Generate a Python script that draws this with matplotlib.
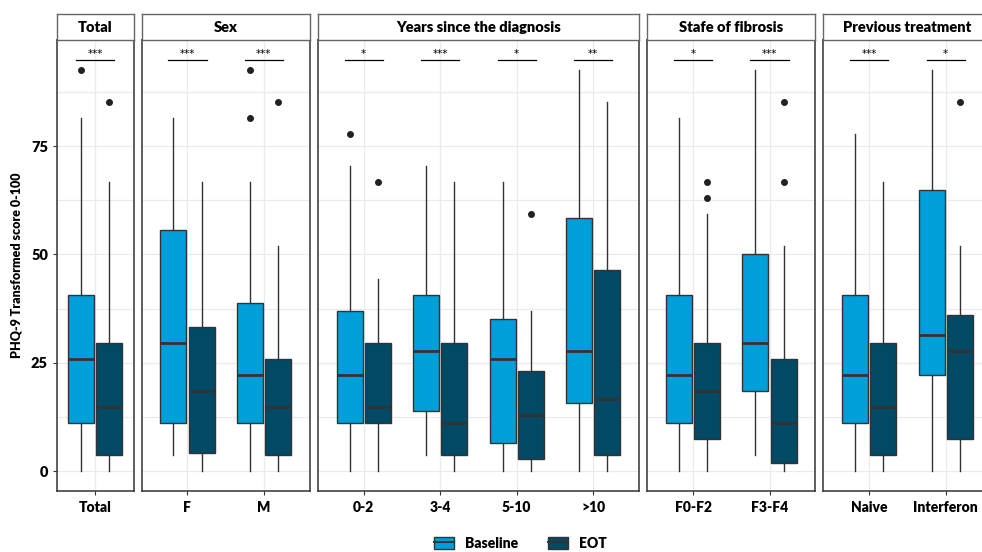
import numpy as np
import matplotlib
matplotlib.use("Agg")
import matplotlib.pyplot as plt
from matplotlib.patches import Patch
from matplotlib.lines import Line2D
from matplotlib.legend_handler import HandlerTuple

plt.rcParams['font.family'] = ['Lato', 'DejaVu Sans']
plt.rcParams['font.weight'] = 'bold'

# facets and categories
panels = ["Total", "Sex", "Years since the diagnosis", "Stafe of fibrosis", "Previous treatment"]
panel_sizes = [1, 2, 4, 2, 2]
categories = ["Total", "F", "M", "0-2", "3-4", "5-10", ">10", "F0-F2", "F3-F4", "Naive", "Interferon"]
stars = ["***", "***", "***", "*", "***", "*", "**", "*", "***", "***", "*"]

# Baseline box stats
base_low = [0, 3.7, 0, 0, 3.7, 0, 0, 0, 3.7, 0, 0]
base_q1 = [11.1, 11.1, 11.1, 11.1, 13.9, 6.5, 15.7, 11.1, 18.5, 11.1, 22.2]
base_med = [25.9, 29.6, 22.2, 22.2, 27.8, 25.9, 27.8, 22.2, 29.6, 22.2, 31.5]
base_q3 = [40.7, 55.6, 38.9, 37.0, 40.7, 35.2, 58.3, 40.7, 50.0, 40.7, 64.8]
base_high = [81.5, 81.5, 66.7, 70.4, 70.4, 66.7, 92.6, 81.5, 92.6, 77.8, 92.6]
base_out = [[92.6], [], [92.6, 81.5], [77.8], [], [], [], [], [], [], []]

# EOT box stats
eot_low = [0, 0, 0, 0, 0, 0, 0, 0, 0, 0, 0]
eot_q1 = [3.7, 4.2, 3.7, 11.1, 3.7, 2.8, 3.7, 7.4, 1.9, 3.7, 7.4]
eot_med = [14.8, 18.5, 14.8, 14.8, 11.1, 13.0, 16.7, 18.5, 11.1, 14.8, 27.8]
eot_q3 = [29.6, 33.3, 25.9, 29.6, 29.6, 23.1, 46.3, 29.6, 25.9, 29.6, 36.1]
eot_high = [66.7, 66.7, 51.9, 44.4, 66.7, 37.0, 85.2, 59.3, 51.9, 66.7, 51.9]
eot_out = [[85.2], [], [85.2], [66.7], [], [59.3], [], [66.7, 63.0], [85.2, 66.7], [], [85.2]]

C_BASE = "#009fda"
C_EOT = "#004a66"
EDGE = "#333333"
GRID = "#ebebeb"

W, H = 982, 552
fig = plt.figure(figsize=(W / 100, H / 100), dpi=100)

unit = 76.5      # px per category
gap = 8
left0 = 57
top, bottom = 40, 491
strip_top = 14
ylo, yhi = -4.6, 99.5


def stats(lo, q1, med, q3, hi, out):
    return dict(whislo=lo, q1=q1, med=med, q3=q3, whishi=hi, fliers=out)


x = left0
k = 0
for p, (name, n) in enumerate(zip(panels, panel_sizes)):
    pad = 0.5 if n == 1 else 0.6
    wpx = (n - 1 + 2 * pad) * unit
    ax = fig.add_axes([x / W, (H - bottom) / H, wpx / W, (bottom - top) / H])
    sax = fig.add_axes([x / W, (H - top) / H, wpx / W, (top - strip_top) / H])
    x += wpx + gap

    idx = list(range(k, k + n))
    k += n
    pos = np.arange(n)
    bs = [stats(base_low[i], base_q1[i], base_med[i], base_q3[i], base_high[i], base_out[i]) for i in idx]
    es = [stats(eot_low[i], eot_q1[i], eot_med[i], eot_q3[i], eot_high[i], eot_out[i]) for i in idx]

    for st, off, col in ((bs, -0.185, C_BASE), (es, 0.185, C_EOT)):
        ax.bxp(st, positions=pos + off, widths=0.34, patch_artist=True, showcaps=False,
               boxprops=dict(facecolor=col, edgecolor=EDGE, linewidth=1.0),
               medianprops=dict(color=EDGE, linewidth=2.0),
               whiskerprops=dict(color=EDGE, linewidth=1.0),
               flierprops=dict(marker='o', markersize=4, markerfacecolor='#222222',
                               markeredgecolor='#222222'))

    for j, i in enumerate(idx):
        ax.plot([j - 0.25, j + 0.25], [94.9, 94.9], color='black', lw=0.9)
        ax.text(j, 95.0, stars[i], ha='center', va='bottom', fontsize=7.5,
                family='DejaVu Sans', fontweight='normal')

    ax.set_xlim(-pad, n - 1 + pad)
    ax.set_ylim(ylo, yhi)
    ax.set_yticks([0, 25, 50, 75])
    ax.set_yticks([12.5, 37.5, 62.5, 87.5], minor=True)
    ax.set_xticks(pos)
    ax.set_xticklabels([categories[i] for i in idx], fontsize=10, fontweight='heavy')
    ax.grid(True, which='both', color=GRID, lw=0.9)
    ax.set_axisbelow(True)
    ax.tick_params(axis='x', length=3, color=EDGE, pad=4)
    ax.tick_params(axis='y', which='minor', length=0)
    if p == 0:
        ax.tick_params(axis='y', length=3, color=EDGE, labelsize=10.5)
        for t in ax.get_yticklabels():
            t.set_fontweight('heavy')
        ax.set_ylabel("PHQ-9 Transformed score 0-100", fontsize=9, fontweight='heavy', labelpad=6)
    else:
        ax.tick_params(axis='y', which='both', length=0, labelleft=False)
    for s in ax.spines.values():
        s.set_color(EDGE)
        s.set_linewidth(1.1)

    sax.set_xticks([])
    sax.set_yticks([])
    sax.set_facecolor('white')
    for s in sax.spines.values():
        s.set_color('#666666')
        s.set_linewidth(1.0)
    sax.text(0.5, 0.5, name, ha='center', va='center', fontsize=10.5, fontweight='heavy',
             transform=sax.transAxes)

hb = (Patch(facecolor=C_BASE, edgecolor=EDGE), Line2D([], [], color=EDGE, lw=1.5))
he = (Patch(facecolor=C_EOT, edgecolor=EDGE), Line2D([], [], color=EDGE, lw=1.5))
fig.legend([hb, he], ["Baseline", "EOT"], handler_map={tuple: HandlerTuple(ndivide=1)},
           loc='center', bbox_to_anchor=(0.53, 1 - 543 / H), ncol=2, frameon=False,
           handlelength=1.4, handleheight=1.0, columnspacing=2.2,
           prop=dict(weight='heavy', size=10))

fig.savefig("out.png", dpi=100)
